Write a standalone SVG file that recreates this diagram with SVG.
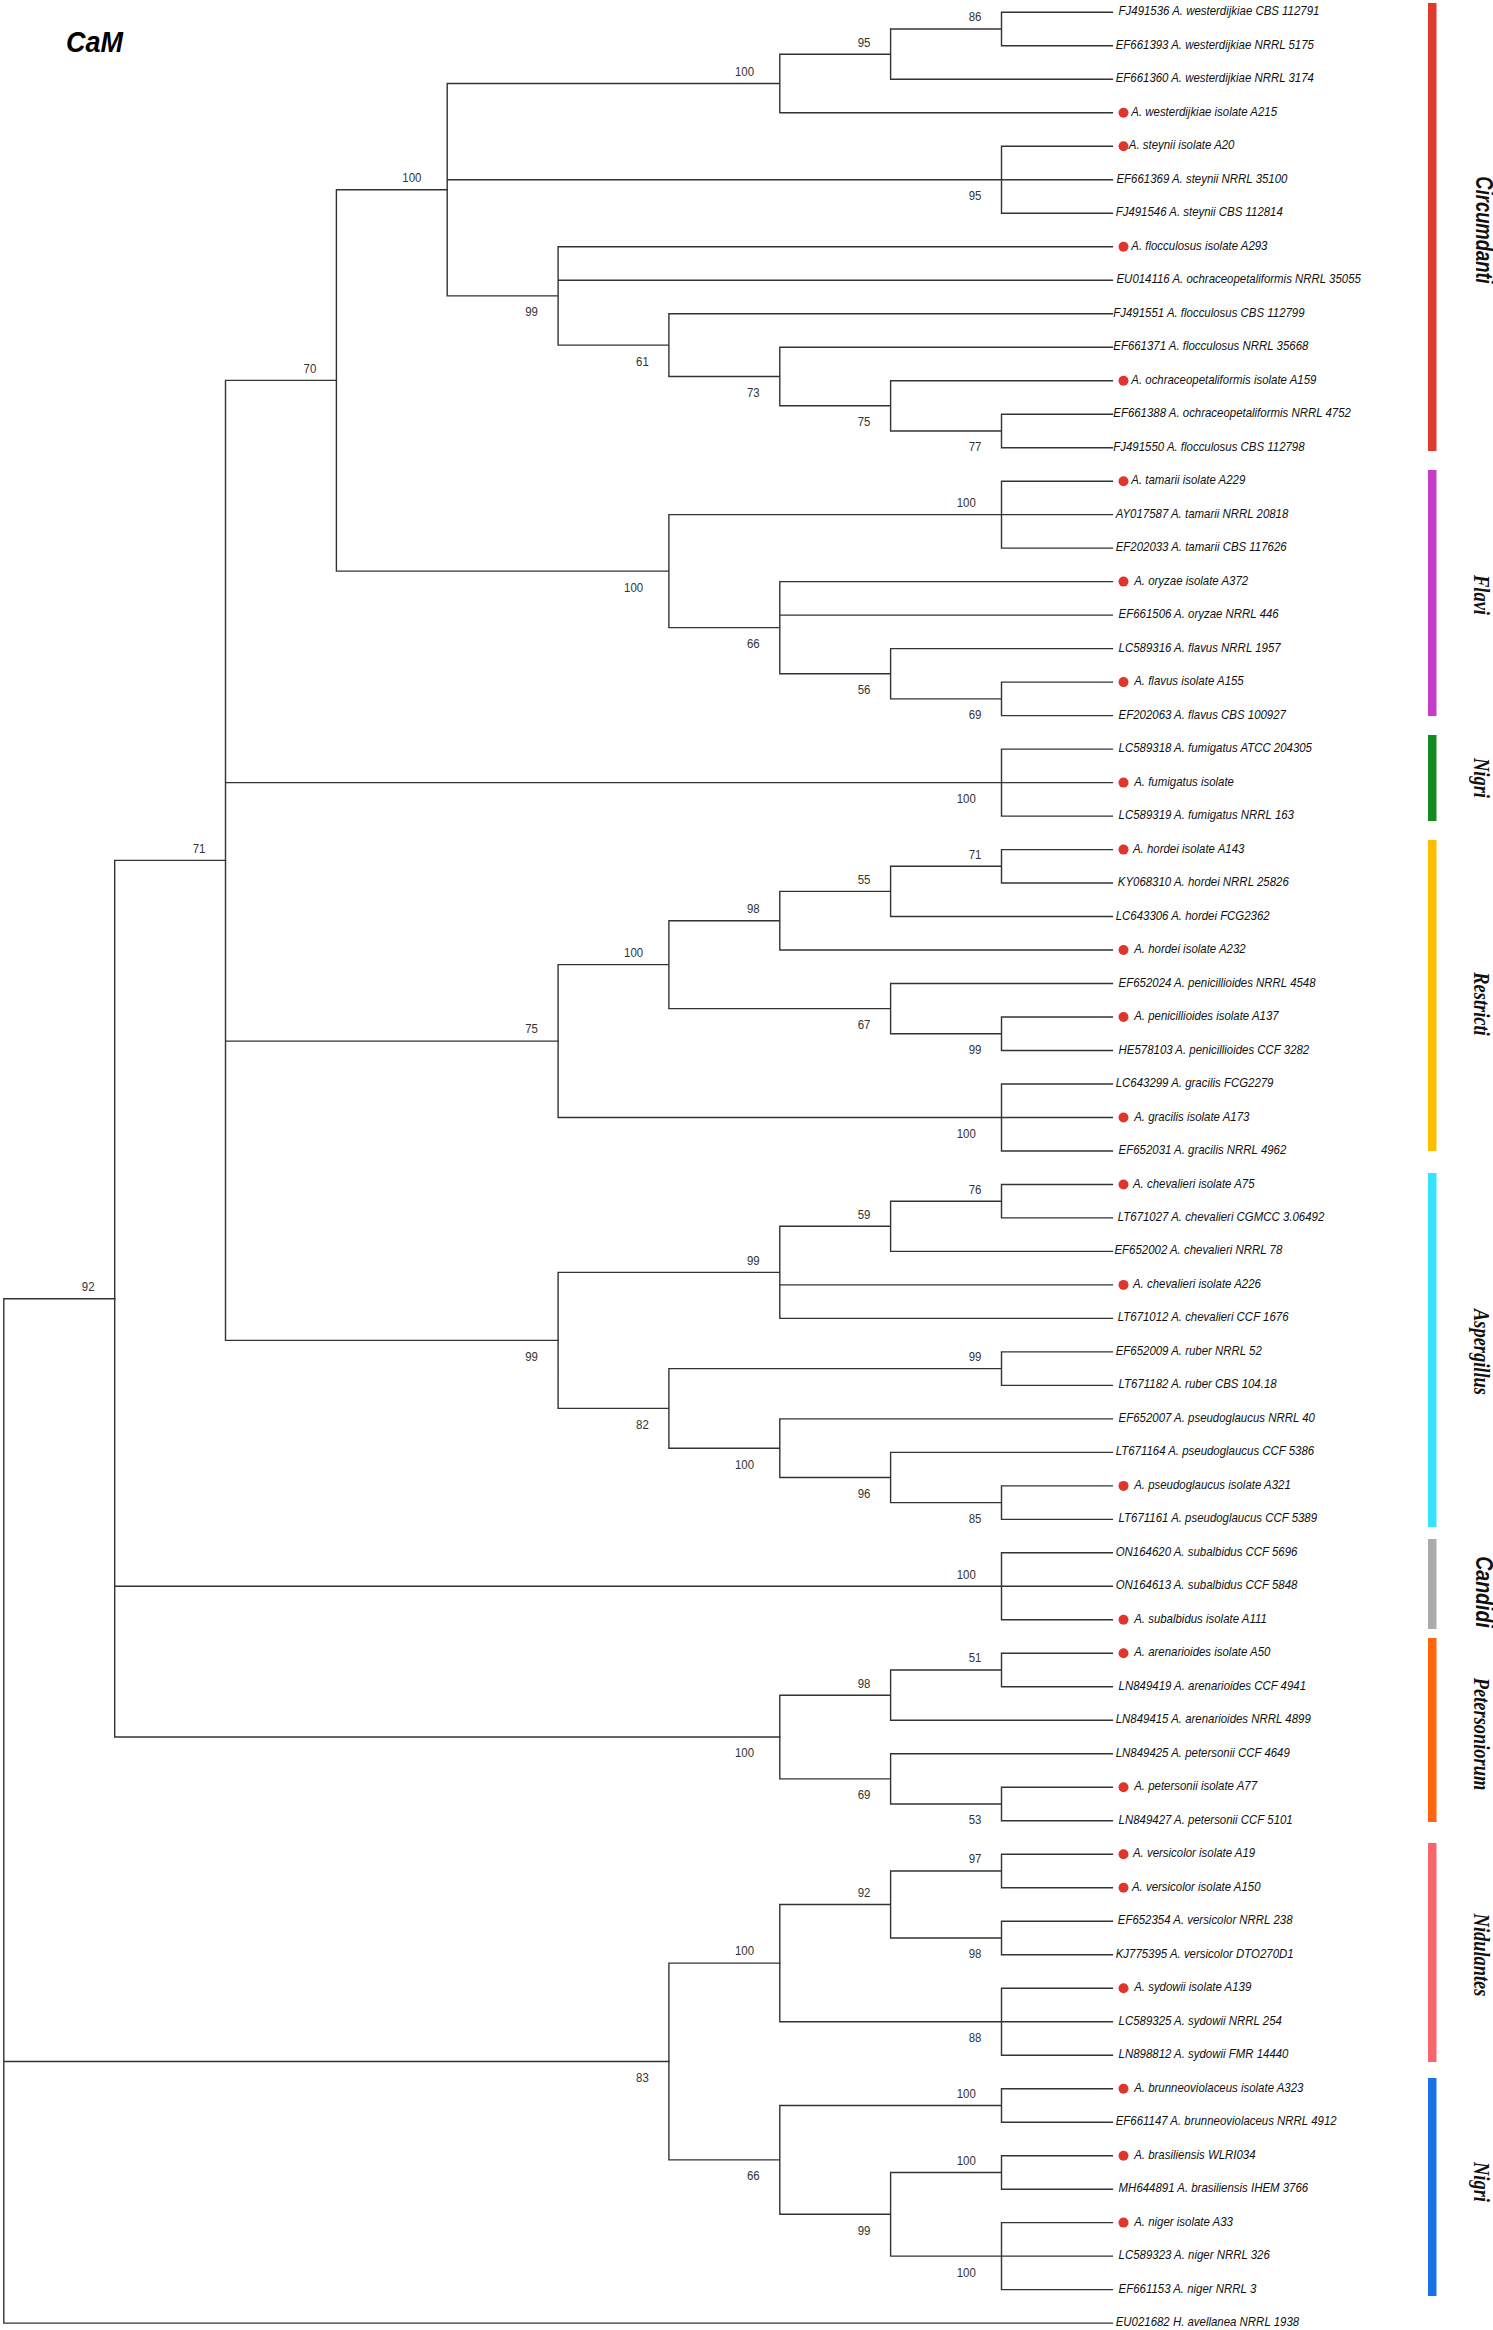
<svg xmlns="http://www.w3.org/2000/svg" width="1493" height="2330" viewBox="0 0 1493 2330">
<style>
.br{fill:none;stroke:#333;stroke-width:1.4;stroke-linecap:square}
.lbl{font-family:"Liberation Sans",Arial,sans-serif;font-style:italic;font-size:13px;fill:#111}
.bs{font-family:"Liberation Sans",Arial,sans-serif;font-size:13px;fill:#333;text-anchor:middle}
.dot{fill:#e0352b}
.cl{font-weight:bold;font-style:italic;font-size:23px;fill:#111;text-anchor:middle}
.ser{font-family:"Liberation Serif","Times New Roman",serif}
.san{font-family:"Liberation Sans",Arial,sans-serif}
</style>
<rect width="1493" height="2330" fill="#fff"/>
<text transform="translate(66 52.4) scale(0.9 1)" font-family="Liberation Sans, Arial, sans-serif" font-weight="bold" font-style="italic" font-size="30" fill="#000">CaM</text>

<g id="connectors">
<path class="br" d="M1112.4 12.3H1001.5V45.8H1112.4 M1001.5 29.05H890.6V79.3H1112.4 M890.6 54.2H779.8V112.8H1112.4 M1112.4 146.3H1001.5V213.2H1112.4 M1001.5 179.75H1112.4 M1112.4 414.2H1001.5V447.7H1112.4 M1112.4 380.7H890.6V430.95H1001.5 M1112.4 347.2H779.8V405.8H890.6 M1112.4 313.7H668.9V376.5H779.8 M1112.4 246.7H558.1V345.1H668.9 M558.1 280.2H1112.4 M779.8 83.5H447.2V295.9H558.1 M447.2 179.75H1001.5"/>
<path class="br" d="M1112.4 481.2H1001.5V548.1H1112.4 M1001.5 514.65H1112.4 M1112.4 682.1H1001.5V715.6H1112.4 M1112.4 648.6H890.6V698.85H1001.5 M1112.4 581.6H779.8V673.7H890.6 M779.8 615.1H1112.4 M1001.5 514.65H668.9V627.65H779.8 M447.2 189.7H336.4V571.15H668.9"/>
<path class="br" d="M1112.4 749.1H1001.5V816.1H1112.4 M1001.5 782.6H1112.4"/>
<path class="br" d="M1112.4 849.6H1001.5V883H1112.4 M1001.5 866.3H890.6V916.5H1112.4 M890.6 891.4H779.8V950H1112.4 M1112.4 1017H1001.5V1050.5H1112.4 M1112.4 983.5H890.6V1033.75H1001.5 M779.8 920.7H668.9V1008.6H890.6 M1112.4 1084H1001.5V1151H1112.4 M1001.5 1117.5H1112.4 M668.9 964.65H558.1V1117.5H1001.5"/>
<path class="br" d="M1112.4 1184.5H1001.5V1217.9H1112.4 M1001.5 1201.2H890.6V1251.4H1112.4 M890.6 1226.3H779.8V1318.4H1112.4 M779.8 1284.9H1112.4 M1112.4 1351.9H1001.5V1385.4H1112.4 M1112.4 1485.9H1001.5V1519.4H1112.4 M1112.4 1452.4H890.6V1502.65H1001.5 M1112.4 1418.9H779.8V1477.5H890.6 M1001.5 1368.65H668.9V1448.2H779.8 M779.8 1272.35H558.1V1408.4H668.9"/>
<path class="br" d="M336.4 380.4H225.5V1340.4H558.1 M225.5 782.6H1001.5 M225.5 1041.1H558.1"/>
<path class="br" d="M1112.4 1552.8H1001.5V1619.8H1112.4 M1001.5 1586.3H1112.4"/>
<path class="br" d="M1112.4 1653.3H1001.5V1686.8H1112.4 M1001.5 1670.05H890.6V1720.3H1112.4 M1112.4 1787.3H1001.5V1820.8H1112.4 M1112.4 1753.8H890.6V1804.05H1001.5 M890.6 1695.2H779.8V1778.9H890.6"/>
<path class="br" d="M225.5 860.4H114.7V1737.05H779.8 M114.7 1586.3H1001.5"/>
<path class="br" d="M1112.4 1854.3H1001.5V1887.7H1112.4 M1112.4 1921.2H1001.5V1954.7H1112.4 M1001.5 1871H890.6V1937.95H1001.5 M1112.4 1988.2H1001.5V2055.2H1112.4 M1001.5 2021.7H1112.4 M890.6 1904.5H779.8V2021.7H1001.5"/>
<path class="br" d="M1112.4 2088.7H1001.5V2122.2H1112.4 M1112.4 2155.7H1001.5V2189.2H1112.4 M1112.4 2222.6H1001.5V2289.6H1112.4 M1001.5 2256.1H1112.4 M1001.5 2172.45H890.6V2256.1H1001.5 M1001.5 2105.45H779.8V2214.3H890.6 M779.8 1963.1H668.9V2159.9H779.8"/>
<path class="br" d="M114.7 1298.7H3.8V2323.1H1112.4 M3.8 2061.5H668.9"/>
</g>

<g id="bootstrap">
<text class="bs" transform="translate(975 21.35) scale(0.88 1)">86</text>
<text class="bs" transform="translate(864.1 46.5) scale(0.88 1)">95</text>
<text class="bs" transform="translate(744.5 75.8) scale(0.88 1)">100</text>
<text class="bs" transform="translate(411.9 182) scale(0.88 1)">100</text>
<text class="bs" transform="translate(975 200.15) scale(0.88 1)">95</text>
<text class="bs" transform="translate(531.6 316.3) scale(0.88 1)">99</text>
<text class="bs" transform="translate(642.4 365.5) scale(0.88 1)">61</text>
<text class="bs" transform="translate(309.9 372.7) scale(0.88 1)">70</text>
<text class="bs" transform="translate(753.3 396.9) scale(0.88 1)">73</text>
<text class="bs" transform="translate(864.1 426.2) scale(0.88 1)">75</text>
<text class="bs" transform="translate(975 451.35) scale(0.88 1)">77</text>
<text class="bs" transform="translate(966.2 506.95) scale(0.88 1)">100</text>
<text class="bs" transform="translate(633.6 591.55) scale(0.88 1)">100</text>
<text class="bs" transform="translate(753.3 648.05) scale(0.88 1)">66</text>
<text class="bs" transform="translate(864.1 694.1) scale(0.88 1)">56</text>
<text class="bs" transform="translate(975 719.25) scale(0.88 1)">69</text>
<text class="bs" transform="translate(966.2 803) scale(0.88 1)">100</text>
<text class="bs" transform="translate(199 852.7) scale(0.88 1)">71</text>
<text class="bs" transform="translate(975 858.6) scale(0.88 1)">71</text>
<text class="bs" transform="translate(864.1 883.7) scale(0.88 1)">55</text>
<text class="bs" transform="translate(753.3 913) scale(0.88 1)">98</text>
<text class="bs" transform="translate(633.6 956.95) scale(0.88 1)">100</text>
<text class="bs" transform="translate(864.1 1029) scale(0.88 1)">67</text>
<text class="bs" transform="translate(531.6 1033.4) scale(0.88 1)">75</text>
<text class="bs" transform="translate(975 1054.15) scale(0.88 1)">99</text>
<text class="bs" transform="translate(966.2 1137.9) scale(0.88 1)">100</text>
<text class="bs" transform="translate(975 1193.5) scale(0.88 1)">76</text>
<text class="bs" transform="translate(864.1 1218.6) scale(0.88 1)">59</text>
<text class="bs" transform="translate(753.3 1264.65) scale(0.88 1)">99</text>
<text class="bs" transform="translate(88.2 1291) scale(0.88 1)">92</text>
<text class="bs" transform="translate(531.6 1360.8) scale(0.88 1)">99</text>
<text class="bs" transform="translate(975 1360.95) scale(0.88 1)">99</text>
<text class="bs" transform="translate(642.4 1428.8) scale(0.88 1)">82</text>
<text class="bs" transform="translate(744.5 1468.6) scale(0.88 1)">100</text>
<text class="bs" transform="translate(864.1 1497.9) scale(0.88 1)">96</text>
<text class="bs" transform="translate(975 1523.05) scale(0.88 1)">85</text>
<text class="bs" transform="translate(966.2 1578.6) scale(0.88 1)">100</text>
<text class="bs" transform="translate(975 1662.35) scale(0.88 1)">51</text>
<text class="bs" transform="translate(864.1 1687.5) scale(0.88 1)">98</text>
<text class="bs" transform="translate(744.5 1757.45) scale(0.88 1)">100</text>
<text class="bs" transform="translate(864.1 1799.3) scale(0.88 1)">69</text>
<text class="bs" transform="translate(975 1824.45) scale(0.88 1)">53</text>
<text class="bs" transform="translate(975 1863.3) scale(0.88 1)">97</text>
<text class="bs" transform="translate(864.1 1896.8) scale(0.88 1)">92</text>
<text class="bs" transform="translate(744.5 1955.4) scale(0.88 1)">100</text>
<text class="bs" transform="translate(975 1958.35) scale(0.88 1)">98</text>
<text class="bs" transform="translate(975 2042.1) scale(0.88 1)">88</text>
<text class="bs" transform="translate(642.4 2081.9) scale(0.88 1)">83</text>
<text class="bs" transform="translate(966.2 2097.75) scale(0.88 1)">100</text>
<text class="bs" transform="translate(966.2 2164.75) scale(0.88 1)">100</text>
<text class="bs" transform="translate(753.3 2180.3) scale(0.88 1)">66</text>
<text class="bs" transform="translate(864.1 2234.7) scale(0.88 1)">99</text>
<text class="bs" transform="translate(966.2 2276.5) scale(0.88 1)">100</text>
</g>

<g id="leaves">
<g id="leaf-1"><text class="lbl" transform="translate(1118.6 15.3) scale(0.88 1)">FJ491536 A. westerdijkiae CBS 112791</text></g>
<g id="leaf-2"><text class="lbl" transform="translate(1115.7 48.8) scale(0.88 1)">EF661393 A. westerdijkiae NRRL 5175</text></g>
<g id="leaf-3"><text class="lbl" transform="translate(1115.7 82.3) scale(0.88 1)">EF661360 A. westerdijkiae NRRL 3174</text></g>
<g id="leaf-4"><circle class="dot" cx="1123.5" cy="112.8" r="5"/><text class="lbl" transform="translate(1131.3 115.8) scale(0.88 1)">A. westerdijkiae isolate A215</text></g>
<g id="leaf-5"><circle class="dot" cx="1123.5" cy="146.3" r="5"/><text class="lbl" transform="translate(1128.8 149.3) scale(0.88 1)">A. steynii isolate A20</text></g>
<g id="leaf-6"><text class="lbl" transform="translate(1116.5 182.8) scale(0.88 1)">EF661369 A. steynii NRRL 35100</text></g>
<g id="leaf-7"><text class="lbl" transform="translate(1115.7 216.2) scale(0.88 1)">FJ491546 A. steynii CBS 112814</text></g>
<g id="leaf-8"><circle class="dot" cx="1123.5" cy="246.7" r="5"/><text class="lbl" transform="translate(1131.3 249.7) scale(0.88 1)">A. flocculosus isolate A293</text></g>
<g id="leaf-9"><text class="lbl" transform="translate(1116.5 283.2) scale(0.88 1)">EU014116 A. ochraceopetaliformis NRRL 35055</text></g>
<g id="leaf-10"><text class="lbl" transform="translate(1113.3 316.7) scale(0.88 1)">FJ491551 A. flocculosus CBS 112799</text></g>
<g id="leaf-11"><text class="lbl" transform="translate(1113.3 350.2) scale(0.88 1)">EF661371 A. flocculosus NRRL 35668</text></g>
<g id="leaf-12"><circle class="dot" cx="1123.5" cy="380.7" r="5"/><text class="lbl" transform="translate(1131.3 383.7) scale(0.88 1)">A. ochraceopetaliformis isolate A159</text></g>
<g id="leaf-13"><text class="lbl" transform="translate(1113.3 417.2) scale(0.88 1)">EF661388 A. ochraceopetaliformis NRRL 4752</text></g>
<g id="leaf-14"><text class="lbl" transform="translate(1113.3 450.7) scale(0.88 1)">FJ491550 A. flocculosus CBS 112798</text></g>
<g id="leaf-15"><circle class="dot" cx="1123.5" cy="481.2" r="5"/><text class="lbl" transform="translate(1131.3 484.2) scale(0.88 1)">A. tamarii isolate A229</text></g>
<g id="leaf-16"><text class="lbl" transform="translate(1115.7 517.7) scale(0.88 1)">AY017587 A. tamarii NRRL 20818</text></g>
<g id="leaf-17"><text class="lbl" transform="translate(1115.7 551.1) scale(0.88 1)">EF202033 A. tamarii CBS 117626</text></g>
<g id="leaf-18"><circle class="dot" cx="1123.5" cy="581.6" r="5"/><text class="lbl" transform="translate(1134.2 584.6) scale(0.88 1)">A. oryzae isolate A372</text></g>
<g id="leaf-19"><text class="lbl" transform="translate(1118.6 618.1) scale(0.88 1)">EF661506 A. oryzae NRRL 446</text></g>
<g id="leaf-20"><text class="lbl" transform="translate(1118.6 651.6) scale(0.88 1)">LC589316 A. flavus NRRL 1957</text></g>
<g id="leaf-21"><circle class="dot" cx="1123.5" cy="682.1" r="5"/><text class="lbl" transform="translate(1134.2 685.1) scale(0.88 1)">A. flavus isolate A155</text></g>
<g id="leaf-22"><text class="lbl" transform="translate(1118.6 718.6) scale(0.88 1)">EF202063 A. flavus CBS 100927</text></g>
<g id="leaf-23"><text class="lbl" transform="translate(1118.6 752.1) scale(0.88 1)">LC589318 A. fumigatus ATCC 204305</text></g>
<g id="leaf-24"><circle class="dot" cx="1123.5" cy="782.6" r="5"/><text class="lbl" transform="translate(1134.2 785.6) scale(0.88 1)">A. fumigatus isolate</text></g>
<g id="leaf-25"><text class="lbl" transform="translate(1118.6 819.1) scale(0.88 1)">LC589319 A. fumigatus NRRL 163</text></g>
<g id="leaf-26"><circle class="dot" cx="1123.5" cy="849.6" r="5"/><text class="lbl" transform="translate(1133 852.6) scale(0.88 1)">A. hordei isolate A143</text></g>
<g id="leaf-27"><text class="lbl" transform="translate(1117.8 886) scale(0.88 1)">KY068310 A. hordei NRRL 25826</text></g>
<g id="leaf-28"><text class="lbl" transform="translate(1115.7 919.5) scale(0.88 1)">LC643306 A. hordei FCG2362</text></g>
<g id="leaf-29"><circle class="dot" cx="1123.5" cy="950" r="5"/><text class="lbl" transform="translate(1134.2 953) scale(0.88 1)">A. hordei isolate A232</text></g>
<g id="leaf-30"><text class="lbl" transform="translate(1118.6 986.5) scale(0.88 1)">EF652024 A. penicillioides NRRL 4548</text></g>
<g id="leaf-31"><circle class="dot" cx="1123.5" cy="1017" r="5"/><text class="lbl" transform="translate(1134.2 1020) scale(0.88 1)">A. penicillioides isolate A137</text></g>
<g id="leaf-32"><text class="lbl" transform="translate(1118.6 1053.5) scale(0.88 1)">HE578103 A. penicillioides CCF 3282</text></g>
<g id="leaf-33"><text class="lbl" transform="translate(1115.7 1087) scale(0.88 1)">LC643299 A. gracilis FCG2279</text></g>
<g id="leaf-34"><circle class="dot" cx="1123.5" cy="1117.5" r="5"/><text class="lbl" transform="translate(1134.2 1120.5) scale(0.88 1)">A. gracilis isolate A173</text></g>
<g id="leaf-35"><text class="lbl" transform="translate(1118.6 1154) scale(0.88 1)">EF652031 A. gracilis NRRL 4962</text></g>
<g id="leaf-36"><circle class="dot" cx="1123.5" cy="1184.5" r="5"/><text class="lbl" transform="translate(1133 1187.5) scale(0.88 1)">A. chevalieri isolate A75</text></g>
<g id="leaf-37"><text class="lbl" transform="translate(1117.8 1220.9) scale(0.88 1)">LT671027 A. chevalieri CGMCC 3.06492</text></g>
<g id="leaf-38"><text class="lbl" transform="translate(1114.5 1254.4) scale(0.88 1)">EF652002 A. chevalieri NRRL 78</text></g>
<g id="leaf-39"><circle class="dot" cx="1123.5" cy="1284.9" r="5"/><text class="lbl" transform="translate(1133 1287.9) scale(0.88 1)">A. chevalieri isolate A226</text></g>
<g id="leaf-40"><text class="lbl" transform="translate(1117.8 1321.4) scale(0.88 1)">LT671012 A. chevalieri CCF 1676</text></g>
<g id="leaf-41"><text class="lbl" transform="translate(1115.7 1354.9) scale(0.88 1)">EF652009 A. ruber NRRL 52</text></g>
<g id="leaf-42"><text class="lbl" transform="translate(1118.6 1388.4) scale(0.88 1)">LT671182 A. ruber CBS 104.18</text></g>
<g id="leaf-43"><text class="lbl" transform="translate(1118.6 1421.9) scale(0.88 1)">EF652007 A. pseudoglaucus NRRL 40</text></g>
<g id="leaf-44"><text class="lbl" transform="translate(1115.7 1455.4) scale(0.88 1)">LT671164 A. pseudoglaucus CCF 5386</text></g>
<g id="leaf-45"><circle class="dot" cx="1123.5" cy="1485.9" r="5"/><text class="lbl" transform="translate(1134.2 1488.9) scale(0.88 1)">A. pseudoglaucus isolate A321</text></g>
<g id="leaf-46"><text class="lbl" transform="translate(1118.6 1522.4) scale(0.88 1)">LT671161 A. pseudoglaucus CCF 5389</text></g>
<g id="leaf-47"><text class="lbl" transform="translate(1115.7 1555.8) scale(0.88 1)">ON164620 A. subalbidus CCF 5696</text></g>
<g id="leaf-48"><text class="lbl" transform="translate(1115.7 1589.3) scale(0.88 1)">ON164613 A. subalbidus CCF 5848</text></g>
<g id="leaf-49"><circle class="dot" cx="1123.5" cy="1619.8" r="5"/><text class="lbl" transform="translate(1134.2 1622.8) scale(0.88 1)">A. subalbidus isolate A111</text></g>
<g id="leaf-50"><circle class="dot" cx="1123.5" cy="1653.3" r="5"/><text class="lbl" transform="translate(1134.2 1656.3) scale(0.88 1)">A. arenarioides isolate A50</text></g>
<g id="leaf-51"><text class="lbl" transform="translate(1118.6 1689.8) scale(0.88 1)">LN849419 A. arenarioides CCF 4941</text></g>
<g id="leaf-52"><text class="lbl" transform="translate(1115.7 1723.3) scale(0.88 1)">LN849415 A. arenarioides NRRL 4899</text></g>
<g id="leaf-53"><text class="lbl" transform="translate(1115.7 1756.8) scale(0.88 1)">LN849425 A. petersonii CCF 4649</text></g>
<g id="leaf-54"><circle class="dot" cx="1123.5" cy="1787.3" r="5"/><text class="lbl" transform="translate(1134.2 1790.3) scale(0.88 1)">A. petersonii isolate A77</text></g>
<g id="leaf-55"><text class="lbl" transform="translate(1118.6 1823.8) scale(0.88 1)">LN849427 A. petersonii CCF 5101</text></g>
<g id="leaf-56"><circle class="dot" cx="1123.5" cy="1854.3" r="5"/><text class="lbl" transform="translate(1133 1857.3) scale(0.88 1)">A. versicolor isolate A19</text></g>
<g id="leaf-57"><circle class="dot" cx="1123.5" cy="1887.7" r="5"/><text class="lbl" transform="translate(1132 1890.7) scale(0.88 1)">A. versicolor isolate A150</text></g>
<g id="leaf-58"><text class="lbl" transform="translate(1117.8 1924.2) scale(0.88 1)">EF652354 A. versicolor NRRL 238</text></g>
<g id="leaf-59"><text class="lbl" transform="translate(1115.7 1957.7) scale(0.88 1)">KJ775395 A. versicolor DTO270D1</text></g>
<g id="leaf-60"><circle class="dot" cx="1123.5" cy="1988.2" r="5"/><text class="lbl" transform="translate(1134.2 1991.2) scale(0.88 1)">A. sydowii isolate A139</text></g>
<g id="leaf-61"><text class="lbl" transform="translate(1118.6 2024.7) scale(0.88 1)">LC589325 A. sydowii NRRL 254</text></g>
<g id="leaf-62"><text class="lbl" transform="translate(1118.6 2058.2) scale(0.88 1)">LN898812 A. sydowii FMR 14440</text></g>
<g id="leaf-63"><circle class="dot" cx="1123.5" cy="2088.7" r="5"/><text class="lbl" transform="translate(1134.2 2091.7) scale(0.88 1)">A. brunneoviolaceus isolate A323</text></g>
<g id="leaf-64"><text class="lbl" transform="translate(1115.7 2125.2) scale(0.88 1)">EF661147 A. brunneoviolaceus NRRL 4912</text></g>
<g id="leaf-65"><circle class="dot" cx="1123.5" cy="2155.7" r="5"/><text class="lbl" transform="translate(1134.2 2158.7) scale(0.88 1)">A. brasiliensis WLRI034</text></g>
<g id="leaf-66"><text class="lbl" transform="translate(1118.6 2192.2) scale(0.88 1)">MH644891 A. brasiliensis IHEM 3766</text></g>
<g id="leaf-67"><circle class="dot" cx="1123.5" cy="2222.6" r="5"/><text class="lbl" transform="translate(1134.2 2225.6) scale(0.88 1)">A. niger isolate A33</text></g>
<g id="leaf-68"><text class="lbl" transform="translate(1118.6 2259.1) scale(0.88 1)">LC589323 A. niger NRRL 326</text></g>
<g id="leaf-69"><text class="lbl" transform="translate(1118.6 2292.6) scale(0.88 1)">EF661153 A. niger NRRL 3</text></g>
<g id="leaf-70"><text class="lbl" transform="translate(1115.7 2326.1) scale(0.88 1)">EU021682 H. avellanea NRRL 1938</text></g>
</g>

<g id="clades">
<g id="clade-circumdanti"><rect x="1428" y="3" width="8.5" height="448" fill="#df3a2b"/><text class="cl san" transform="translate(1475.5 230) rotate(90) scale(0.8 1)">Circumdanti</text></g>
<g id="clade-flavi"><rect x="1428" y="470" width="8.5" height="246" fill="#c43cc8"/><text class="cl ser" transform="translate(1474 595) rotate(90) scale(0.8 1)">Flavi</text></g>
<g id="clade-nigri-1"><rect x="1428" y="735" width="8.5" height="86" fill="#168a22"/><text class="cl ser" transform="translate(1474 778) rotate(90) scale(0.8 1)">Nigri</text></g>
<g id="clade-restricti"><rect x="1428" y="840" width="8.5" height="311" fill="#fbbf00"/><text class="cl ser" transform="translate(1474 1004) rotate(90) scale(0.8 1)">Restricti</text></g>
<g id="clade-aspergillus"><rect x="1428" y="1173" width="8.5" height="354" fill="#37e3fa"/><text class="cl ser" transform="translate(1474 1352) rotate(90) scale(0.8 1)">Aspergillus</text></g>
<g id="clade-candidi"><rect x="1428" y="1539" width="8.5" height="90" fill="#ababab"/><text class="cl san" transform="translate(1475.5 1592) rotate(90) scale(0.85 1)">Candidi</text></g>
<g id="clade-petersoniorum"><rect x="1428" y="1638" width="8.5" height="184" fill="#ff650a"/><text class="cl ser" transform="translate(1474 1734) rotate(90) scale(0.8 1)">Petersoniorum</text></g>
<g id="clade-nidulantes"><rect x="1428" y="1843" width="8.5" height="219" fill="#f7666a"/><text class="cl ser" transform="translate(1474 1955) rotate(90) scale(0.8 1)">Nidulantes</text></g>
<g id="clade-nigri-2"><rect x="1428" y="2078" width="8.5" height="218" fill="#1a72e8"/><text class="cl ser" transform="translate(1474 2182) rotate(90) scale(0.8 1)">Nigri</text></g>
</g>
</svg>
